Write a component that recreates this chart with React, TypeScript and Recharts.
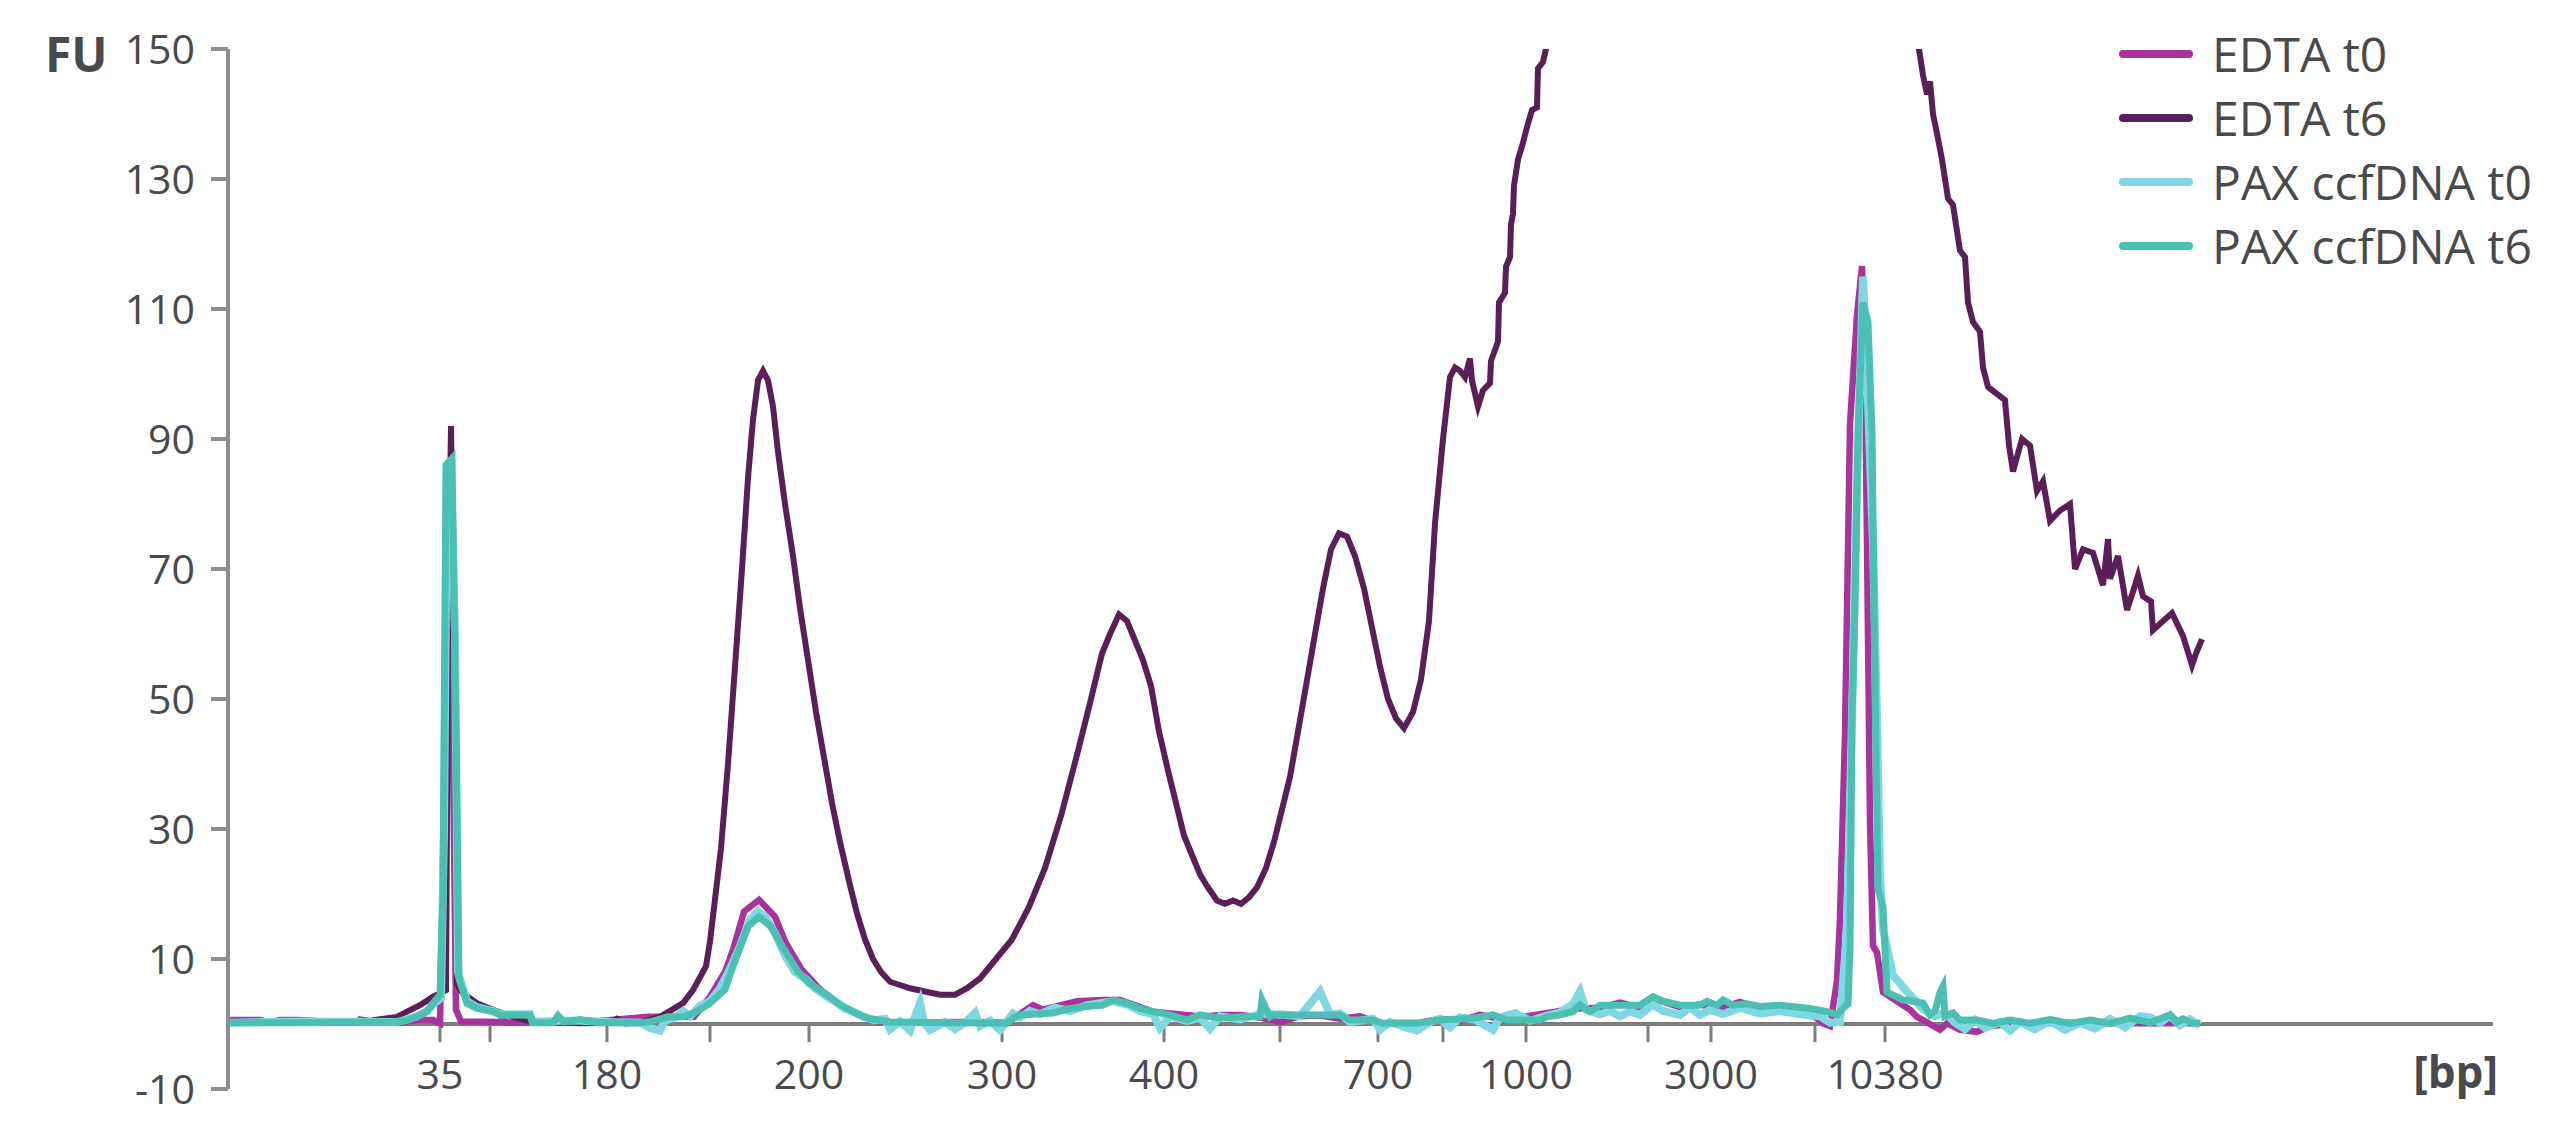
import { LineChart, Line, XAxis, YAxis, ReferenceLine, Label } from 'recharts';

// migration time (s) -> FU, four electropherogram traces
const edtaT0Time = [23.0, 26.0, 27.0, 28.0, 30.0, 33.0, 35.7, 36.0, 38.0, 40.0, 41.7, 43.3, 44.0, 44.5, 44.8, 45.2, 45.6, 46.1, 50.0, 50.3, 50.6, 54.0, 58.0, 64.8, 69.4, 71.0, 72.5, 73.3, 74.4, 75.9, 77.5, 78.6, 80.2, 81.7, 83.2, 84.8, 86.3, 87.8, 90.0, 96.0, 100.7, 103.3, 104.3, 107.7, 110.3, 112.0, 115.3, 120.3, 122.0, 124.0, 126.0, 128.0, 130.0, 132.0, 134.0, 136.0, 138.0, 142.0, 144.0, 146.0, 148.0, 150.0, 152.0, 154.0, 156.0, 158.0, 160.0, 162.0, 164.0, 166.0, 168.0, 170.0, 172.0, 174.0, 176.0, 178.0, 180.0, 181.5, 182.3, 183.0, 183.7, 184.0, 184.5, 185.0, 185.7, 186.2, 186.5, 186.7, 187.0, 187.3, 187.7, 188.3, 190.0, 191.0, 191.7, 192.3, 194.0, 194.7, 196.0, 197.7, 199.0, 202.0, 206.0, 212.0, 220.0];
const edtaT0Fu = [0.6, 0.6, 0.2, 0.6, 0.6, 0.3, 0.2, 0.7, 0.2, 0.2, 0.6, 0.6, 0.1, 40, 60, 55, 2.2, 0.4, 0.3, 0.8, 0.2, 0.3, 0.2, 1.1, 1.1, 4.2, 8, 11.4, 17.3, 19.1, 16.5, 12.4, 8.3, 5.8, 3.7, 2.2, 1.1, 0.4, 0.2, 0.3, 0.2, 2.9, 2.2, 3.5, 3.7, 3.7, 1.9, 1.1, 1.4, 1.4, 1.0, 0.3, 1.2, 1.3, 0.8, 1.2, 0.1, 0.2, 0.8, 0.5, 1.4, 0.8, 1.0, 1.5, 2.0, 2.4, 2.5, 3.3, 2.5, 3.6, 2.6, 3.0, 2.4, 3.4, 2.3, 2.7, 1.5, 1.1, 0.1, -0.3, 6.6, 16.3, 44.6, 92.3, 109, 116.6, 100, 73.8, 31, 12, 11, 4.9, 3.2, 2.2, 1.1, 0.6, -0.9, 0.1, -0.9, -1.2, -0.3, 0.1, 0.2, 0.1, 0.1];

const edtaT6Time = [23.0, 30.0, 36.7, 37.3, 39.7, 40.7, 42.0, 43.3, 44.0, 44.6, 44.8, 45.1, 45.4, 45.7, 46.3, 47.7, 49.3, 51.0, 53.3, 58.0, 61.0, 61.7, 62.5, 64.0, 66.0, 68.3, 69.3, 70.6, 71.0, 72.1, 72.8, 73.5, 74.2, 74.8, 75.3, 75.8, 76.3, 76.8, 77.3, 77.8, 78.5, 79.3, 80.0, 80.8, 81.6, 82.4, 83.2, 84.0, 84.9, 85.7, 86.5, 87.3, 88.1, 89.0, 90.0, 91.0, 92.5, 94.0, 95.5, 96.7, 98.0, 99.6, 101.2, 102.9, 104.5, 106.1, 107.8, 109.1, 110.2, 111.0, 111.9, 112.7, 113.5, 114.3, 115.1, 115.9, 116.8, 117.6, 118.4, 119.2, 120.0, 120.8, 121.7, 122.5, 123.3, 124.1, 124.9, 125.7, 126.6, 127.4, 128.2, 129.0, 129.8, 130.6, 131.5, 132.3, 133.1, 133.9, 134.7, 135.5, 136.4, 137.2, 138.0, 138.8, 139.6, 140.4, 141.3, 142.1, 142.9, 143.5, 144.3, 145.0, 145.5, 146.0, 146.5, 147.0, 147.2, 147.8, 148.3, 149.0, 149.1, 149.8, 149.9, 150.5, 150.6, 151.0, 151.1, 151.3, 151.4, 151.8, 152.2, 152.7, 153.2, 153.7, 153.8, 154.3, 154.6, 156.0, 165.0, 175.0, 185.0, 191.0, 191.9, 192.3, 192.7, 193.0, 193.3, 193.7, 194.2, 194.8, 195.3, 196.0, 196.5, 196.8, 197.3, 198.0, 198.3, 198.8, 200.5, 200.9, 201.3, 202.2, 203.0, 203.7, 204.3, 205.0, 206.0, 207.0, 207.5, 208.3, 209.3, 210.3, 210.8, 211.0, 211.8, 212.7, 213.4, 213.8, 214.3, 215.1, 215.3, 216.3, 217.2, 218.3, 219.2, 219.6, 220.2];
const edtaT6Fu = [0.3, 0.4, 0.2, 0.6, 1.1, 1.9, 2.9, 4.2, 4.7, 5.2, 60, 92, 60, 6, 4.7, 3.2, 2.2, 1.2, 0.3, 0.1, 0.2, 0.8, 0.1, 0.2, 1.1, 3.2, 5.2, 8.9, 12.7, 27, 40, 55, 70, 84, 93, 99, 100.5, 99, 95, 88, 80, 72, 64, 56, 48, 41, 34, 28, 22, 17, 13, 10, 8, 6.5, 6, 5.5, 5, 4.5, 4.5, 5.5, 7, 10, 13, 18, 24, 32, 42, 50, 57, 60, 63, 62, 59, 56, 52, 45, 39, 34, 29, 26, 23, 21, 19, 18.5, 19, 18.5, 19.5, 21, 24, 28, 33, 38, 45, 52, 60, 67, 73, 75.5, 75, 72, 67, 61, 55, 50, 47, 45.5, 48, 53, 62, 77, 90, 99.5, 101, 100.5, 99.5, 102.4, 99, 95, 97.5, 98.6, 102, 105, 111, 112.5, 116.5, 118, 123, 124.7, 129, 133, 135, 138, 140.6, 141, 147, 148, 150, 170, 230, 260, 220, 160, 150, 146, 143, 145, 140, 137, 133, 127, 126, 119, 118, 111, 108, 106.5, 101, 98, 96, 89, 85, 90, 89, 82, 83.5, 77.4, 79, 80, 70, 73, 72.5, 67.5, 74.6, 68.5, 72, 63.7, 67, 69, 65.8, 65, 60.6, 62, 63.2, 59.7, 55.2, 57, 59.2];

const paxT0Time = [23.0, 30.0, 39.7, 40.7, 41.7, 42.7, 43.3, 44.1, 44.4, 44.7, 45.1, 45.5, 45.8, 46.7, 47.7, 49.3, 50.0, 53.0, 53.3, 56.0, 58.0, 61.0, 64.1, 65.0, 66.0, 66.5, 67.5, 68.3, 69.0, 70.0, 71.0, 72.0, 73.0, 74.0, 75.0, 75.8, 76.5, 77.5, 78.5, 79.5, 80.5, 81.5, 82.5, 83.5, 84.5, 85.5, 86.5, 87.5, 88.5, 89.0, 90.0, 91.0, 92.0, 92.4, 93.0, 94.5, 95.5, 96.5, 97.5, 98.0, 99.0, 100.0, 101.3, 102.0, 103.0, 104.0, 105.5, 107.0, 108.7, 110.0, 111.3, 112.7, 114.0, 115.3, 116.0, 117.0, 118.7, 120.0, 121.0, 122.0, 124.0, 126.0, 128.0, 130.0, 132.0, 133.0, 134.0, 135.0, 137.3, 138.0, 139.0, 140.5, 141.7, 143.0, 144.0, 145.0, 146.0, 147.5, 149.3, 150.0, 151.5, 153.0, 154.7, 156.0, 157.3, 158.0, 158.6, 160.0, 161.0, 162.0, 163.0, 164.0, 165.3, 166.3, 168.0, 169.0, 170.0, 171.0, 172.3, 174.0, 176.0, 178.0, 180.0, 182.0, 183.0, 184.0, 184.7, 185.2, 185.7, 186.3, 186.7, 187.3, 187.7, 188.0, 188.3, 189.3, 190.7, 192.3, 193.5, 194.5, 195.5, 196.5, 197.5, 198.5, 200.0, 201.0, 202.0, 203.5, 205.0, 206.5, 208.0, 209.5, 211.0, 212.5, 214.0, 215.0, 216.0, 217.0, 218.0, 219.0, 220.0];
const paxT0Fu = [0.2, 0.4, 0.3, 0.7, 1.2, 2.0, 3.0, 4.0, 30, 84, 86, 60, 8, 3.5, 2.6, 2.0, 1.5, 1.5, 0.3, 0.5, 0.5, 0.3, 0.2, -0.6, -1.0, 0.5, 1.0, 2.0, 1.2, 2.8, 3.5, 5.5, 8.5, 12, 16, 17.3, 16.5, 14, 10.5, 8, 7, 5.5, 4.4, 3.5, 2.4, 1.8, 1.0, 0.6, 0.8, -0.8, 0.4, -1.0, 3.2, 0.2, -0.9, 0.3, -0.8, 0.2, 1.7, -0.3, 0.5, -0.9, 1.6, 1.0, 2.0, 1.5, 2.5, 2.0, 2.9, 3.2, 3.5, 3.0, 2.0, 1.5, -0.6, 1.2, 0.5, 1.0, -0.7, 1.2, 0.7, 1.5, 1.5, 1.2, 5.0, 1.5, 1.6, 0.3, 0.8, -0.9, 0.3, -0.5, -1.0, 0.3, 0.8, -0.5, 1.0, 0.7, -0.9, 1.0, 1.7, 0.5, 1.3, 1.8, 3.0, 5.0, 2.2, 1.5, 2.0, 1.2, 1.9, 1.4, 3.0, 2.0, 1.4, 2.5, 1.4, 2.2, 1.5, 2.5, 1.6, 2.0, 1.5, 1.2, 0.2, 0.3, 14.6, 47, 82.6, 115, 100, 73.8, 47, 22.6, 14.6, 7.5, 5, 2.3, 1.2, 1.8, 0.2, -0.8, 0.6, -0.6, 0.3, -1.0, 0.3, -0.8, 0.5, -0.9, 0.2, -0.7, 0.8, -0.5, 1.2, 1.0, 0.2, 1.3, -0.2, 0.7, -0.2];

const paxT6Time = [23.0, 30.0, 39.7, 40.7, 41.7, 42.7, 43.3, 44.0, 44.3, 44.6, 45.2, 45.6, 45.9, 46.7, 47.7, 49.3, 50.0, 53.0, 53.3, 55.3, 55.8, 56.4, 58.0, 60.0, 64.1, 65.2, 66.8, 68.3, 69.4, 71.0, 72.5, 73.3, 74.8, 75.9, 77.1, 78.2, 79.8, 80.9, 82.5, 84.0, 85.5, 87.0, 89.0, 100.7, 101.3, 102.0, 105.3, 107.0, 108.7, 110.3, 111.3, 112.7, 114.0, 115.3, 117.0, 118.7, 120.0, 122.0, 124.0, 126.0, 126.2, 127.0, 127.3, 134.0, 135.0, 137.3, 138.3, 141.7, 144.0, 147.3, 149.3, 150.7, 154.0, 154.7, 156.0, 157.3, 158.0, 159.0, 160.0, 162.0, 164.0, 165.3, 166.3, 168.0, 170.0, 170.7, 171.7, 172.3, 173.3, 174.7, 176.0, 178.0, 181.0, 182.7, 183.7, 184.3, 184.8, 185.0, 185.2, 185.5, 185.8, 186.3, 186.8, 187.2, 187.5, 187.8, 188.3, 188.7, 190.3, 191.3, 192.3, 193.0, 193.5, 194.0, 194.3, 194.5, 195.3, 196.0, 197.7, 199.3, 201.0, 203.0, 205.0, 207.0, 209.0, 211.0, 213.0, 215.0, 217.0, 217.7, 218.3, 219.3, 220.0];
const paxT6Fu = [0.2, 0.2, 0.3, 0.6, 1.1, 1.9, 3.2, 4.5, 20, 86, 87, 45, 7, 3.2, 2.4, 1.9, 1.4, 1.4, 0.2, 0.2, 1.3, 0.3, 0.7, 0.2, 0.2, 0.4, 1.1, 1.1, 1.7, 3.2, 5.3, 8.9, 15, 16.5, 15, 12, 8.1, 6.3, 4.7, 3.0, 1.7, 0.8, 0.3, 0.1, 0.9, 1.4, 1.7, 2.4, 2.7, 2.9, 3.7, 3.2, 2.4, 1.9, 1.4, 0.6, 1.4, 0.9, 1.1, 1.1, 3.7, 1.1, 1.4, 1.4, 0.6, 0.6, 0.1, 0.1, 0.6, 0.9, 1.4, 0.6, 0.6, 1.1, 1.4, 1.9, 2.9, 1.9, 2.9, 2.9, 2.9, 4.2, 3.5, 2.9, 2.9, 3.5, 2.9, 3.7, 2.9, 3.1, 2.7, 2.9, 2.4, 1.9, 1.4, 2.4, 3.1, 12, 47, 65, 91, 111, 108, 91, 51.7, 20.8, 18, 4.9, 3.7, 3.5, 3.2, 1.4, 2, 4.9, 5.8, 1.2, 1.7, 0.6, 0.6, 0.1, 0.6, 0.1, 0.7, 0.1, 0.6, 0.1, 0.9, 0.2, 1.4, 0.3, 0.8, 0.1, 0.1];

// ladder positions on the time axis and their bp labels ('' = unlabeled tick)
const bpTickTimes = [44.0, 49.0, 60.7, 71.0, 80.9, 100.2, 116.4, 128.0, 137.8, 144.3, 152.6, 164.8, 171.1, 181.5, 188.5];
const bpTickLabels = ['35', '', '180', '', '200', '300', '400', '', '700', '', '1000', '', '3000', '', '10380'];
const fuTicks = [-10, 10, 30, 50, 70, 90, 110, 130, 150];

const toPoints = (t: number[], v: number[]) => t.map((x, i) => ({ t: x, fu: v[i] }));

const series = [
  { name: 'EDTA t0', color: '#a8339c', width: 6.5, data: toPoints(edtaT0Time, edtaT0Fu) },
  { name: 'EDTA t6', color: '#5b1f57', width: 6, data: toPoints(edtaT6Time, edtaT6Fu) },
  { name: 'PAX ccfDNA t0', color: '#7fd7e1', width: 8, data: toPoints(paxT0Time, paxT0Fu) },
  { name: 'PAX ccfDNA t6', color: '#4bbfb1', width: 7, data: toPoints(paxT6Time, paxT6Fu) },
];

const TEXT = '#4a4a4d';
const FONT = '"Open Sans", sans-serif';

const BpTick = ({ x, y, payload }: any) => {
  const i = bpTickTimes.indexOf(payload.value);
  return (
    <text x={x} y={y} textAnchor="middle" fill={TEXT} fontSize={41} fontFamily={FONT}>
      {i >= 0 ? bpTickLabels[i] : ''}
    </text>
  );
};

export default function App() {
  return (
    <div style={{ position: 'absolute', left: 0, top: 0, width: 2560, height: 1135, background: '#fff' }}>
      <LineChart width={2560} height={1135} margin={{ top: 49, right: 67, bottom: 0, left: 0 }}>
        <XAxis
          dataKey="t"
          type="number"
          domain={[22.8, 249.3]}
          ticks={bpTickTimes}
          interval={0}
          axisLine={false}
          tickLine={false}
          tickSize={0}
          tickMargin={0}
          height={46}
          tick={<BpTick />}
        >
          <Label
            content={({ viewBox }: any) => (
              <text
                x={viewBox.x + viewBox.width + 5}
                y={viewBox.y - 1}
                textAnchor="end"
                fill={TEXT}
                fontSize={44}
                fontWeight={700}
                fontFamily={FONT}
              >
                [bp]
              </text>
            )}
          />
        </XAxis>
        <YAxis
          type="number"
          domain={[-10, 150]}
          allowDataOverflow
          ticks={fuTicks}
          interval={0}
          width={228}
          tickSize={17}
          tickMargin={16}
          axisLine={{ stroke: '#8a8d91', strokeWidth: 4 }}
          tickLine={{ stroke: '#8a8d91', strokeWidth: 4 }}
          tick={{ fill: TEXT, fontSize: 41, fontFamily: FONT }}
        >
          <Label
            content={({ viewBox }: any) => (
              <text x={viewBox.x + 45} y={viewBox.y + 23} fill={TEXT} fontSize={48} fontWeight={700} fontFamily={FONT}>
                FU
              </text>
            )}
          />
        </YAxis>
        <ReferenceLine y={0} stroke="#7d7d7d" strokeWidth={4} />
        {bpTickTimes.map((t) => (
          <ReferenceLine
            key={t}
            segment={[
              { x: t, y: 0 },
              { x: t, y: -2.8 },
            ]}
            stroke="#7d7d7d"
            strokeWidth={3}
          />
        ))}
        {series.map((s) => (
          <Line
            key={s.name}
            data={s.data}
            dataKey="fu"
            name={s.name}
            type="linear"
            stroke={s.color}
            strokeWidth={s.width}
            dot={false}
            activeDot={false}
            isAnimationActive={false}
          />
        ))}
      </LineChart>
      {/* legend, top right */}
      <div style={{ position: 'absolute', left: 2119, top: 22, fontFamily: FONT }}>
        {series.map((s) => (
          <div key={s.name} style={{ display: 'flex', alignItems: 'center', height: 64 }}>
            <div style={{ width: 74, height: 8, borderRadius: 4, background: s.color }} />
            <span style={{ marginLeft: 19, fontSize: 48, color: TEXT, lineHeight: '64px' }}>{s.name}</span>
          </div>
        ))}
      </div>
    </div>
  );
}
